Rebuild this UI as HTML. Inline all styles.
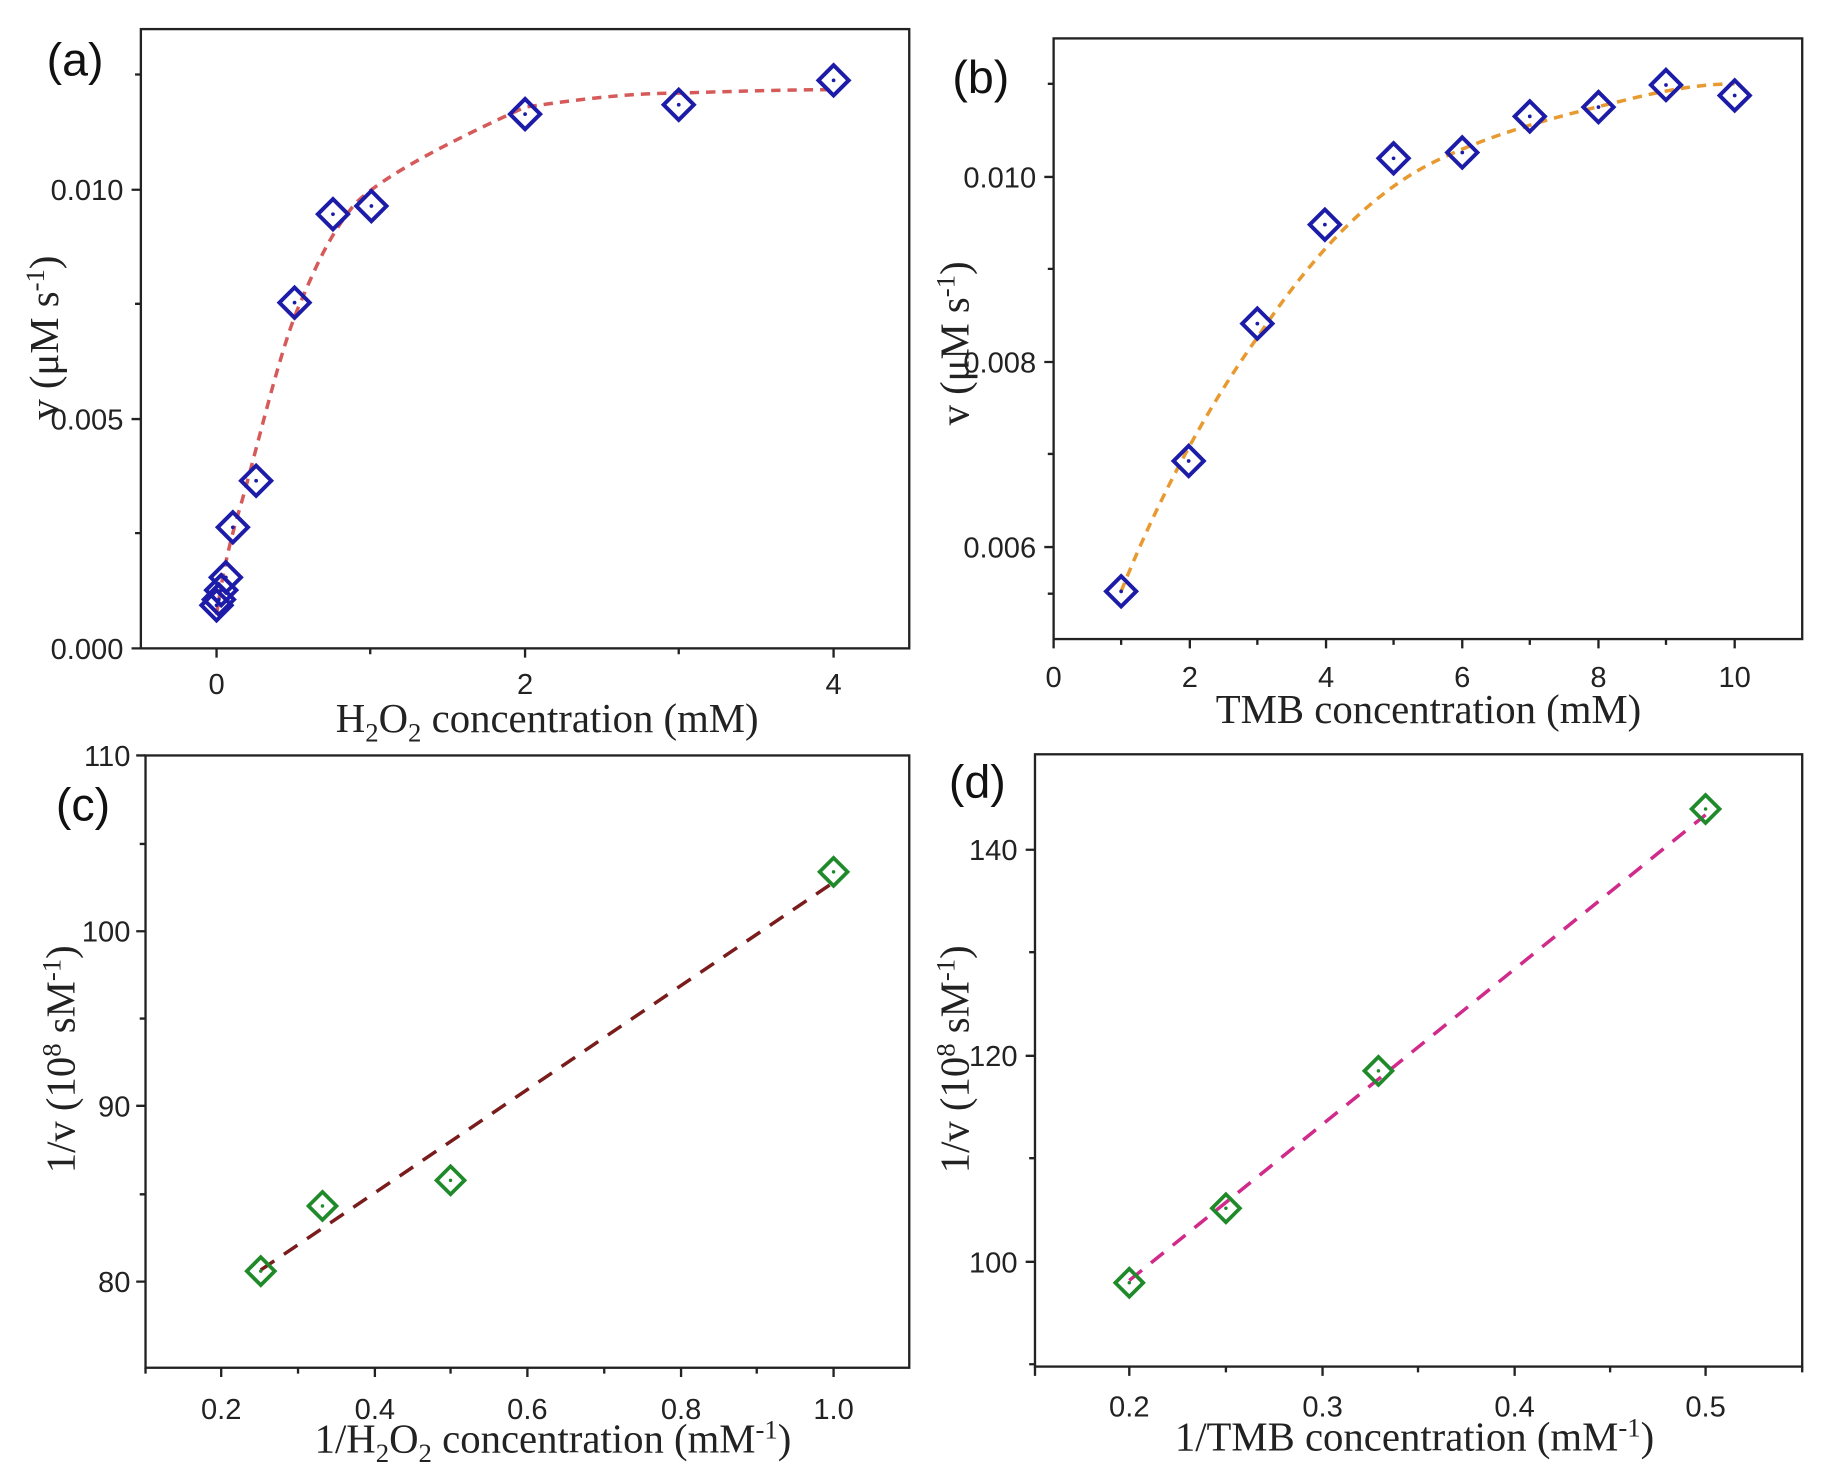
<!DOCTYPE html>
<html><head><meta charset="utf-8"><style>
html,body{margin:0;padding:0;background:#fff;}
svg{display:block;}
.tk{font-family:"Liberation Sans",sans-serif;font-size:25px;fill:#222;}
.tt{font-family:"Liberation Serif",serif;font-size:35px;fill:#222;}
.pl{font-family:"Liberation Sans",sans-serif;font-size:40px;fill:#111;}
.ax{stroke:#222;stroke-width:2;fill:none;}
</style></head><body>
<svg width="1822" height="1476" viewBox="0 0 1565 1268" preserveAspectRatio="none" xmlns="http://www.w3.org/2000/svg">
<defs>
<g id="db"><path d="M0,-13 L13,0 L0,13 L-13,0 Z" fill="none" stroke="#1c1ca8" stroke-width="3.4"/><circle r="1.6" fill="#1c1ca8"/></g>
<g id="dg"><path d="M0,-12 L12,0 L0,12 L-12,0 Z" fill="none" stroke="#1f8a2a" stroke-width="3.2"/><circle r="1.5" fill="#1f8a2a"/></g>
</defs>
<!-- Panel a -->
<rect x="121" y="25" width="660" height="532" class="ax"/>
<g class="ax">
<path d="M121,557 h-8 M121,458 h-5 M121,360 h-8 M121,261 h-5 M121,163 h-8 M121,64 h-5"/>
<path d="M186,557 v8 M318,557 v5 M451,557 v8 M583,557 v5 M716,557 v8"/>
</g>
<g class="tk" text-anchor="end"><text x="106" y="566">0.000</text><text x="106" y="369">0.005</text><text x="106" y="172">0.010</text></g>
<g class="tk" text-anchor="middle"><text x="186" y="596">0</text><text x="451" y="596">2</text><text x="716" y="596">4</text></g>
<text class="tt" x="470" y="629" text-anchor="middle">H<tspan font-size="23" dy="8">2</tspan><tspan dy="-8">O</tspan><tspan font-size="23" dy="8">2</tspan><tspan dy="-8"> concentration (mM)</tspan></text>
<text class="tt" transform="translate(50,290) rotate(-90)" text-anchor="middle">v (μM s<tspan font-size="23" dy="-12">-1</tspan><tspan dy="12">)</tspan></text>
<text class="pl" x="40" y="65">(a)</text>
<path d="M186,528 C190,500 196,470 205,440 C220,390 240,300 258,260 C275,220 285,200 305,175 C330,150 390,120 451,92 C500,85 540,80 583,80 C640,78 690,77 716,77" fill="none" stroke="#d65a5a" stroke-width="3" stroke-dasharray="8,6"/>
<g><use href="#db" x="186" y="520"/><use href="#db" x="188" y="515"/><use href="#db" x="190" y="507"/><use href="#db" x="194" y="496"/><use href="#db" x="200" y="453"/><use href="#db" x="220" y="413"/><use href="#db" x="253" y="260"/><use href="#db" x="286" y="184"/><use href="#db" x="319" y="177"/><use href="#db" x="451" y="98"/><use href="#db" x="583" y="90"/><use href="#db" x="716" y="69"/></g>

<!-- Panel b -->
<rect x="905" y="33" width="643" height="516" class="ax"/>
<g class="ax">
<path d="M905,470 h-8 M905,390 h-5 M905,311 h-8 M905,231 h-5 M905,152 h-8 M905,72 h-5 M905,510 h-5"/>
<path d="M905,549 v8 M963,549 v5 M1022,549 v8 M1080,549 v5 M1139,549 v8 M1197,549 v5 M1256,549 v8 M1314,549 v5 M1373,549 v8 M1431,549 v5 M1490,549 v8"/>
</g>
<g class="tk" text-anchor="end"><text x="890" y="479">0.006</text><text x="890" y="320">0.008</text><text x="890" y="161">0.010</text></g>
<g class="tk" text-anchor="middle"><text x="905" y="590">0</text><text x="1022" y="590">2</text><text x="1139" y="590">4</text><text x="1256" y="590">6</text><text x="1373" y="590">8</text><text x="1490" y="590">10</text></g>
<text class="tt" x="1227" y="621" text-anchor="middle">TMB concentration (mM)</text>
<text class="tt" transform="translate(832,295) rotate(-90)" text-anchor="middle">v (μM s<tspan font-size="23" dy="-12">-1</tspan><tspan dy="12">)</tspan></text>
<text class="pl" x="818" y="80">(b)</text>
<path d="M963,508 C990,440 1030,360 1080,290 C1120,230 1170,170 1230,140 C1290,110 1360,95 1400,85 C1440,75 1470,72 1490,72" fill="none" stroke="#e89a30" stroke-width="3" stroke-dasharray="8,6"/>
<g><use href="#db" x="963" y="508"/><use href="#db" x="1021" y="396"/><use href="#db" x="1080" y="278"/><use href="#db" x="1138" y="193"/><use href="#db" x="1197" y="136"/><use href="#db" x="1256" y="131"/><use href="#db" x="1314" y="100"/><use href="#db" x="1373" y="92"/><use href="#db" x="1431" y="73"/><use href="#db" x="1490" y="82"/></g>

<!-- Panel c -->
<rect x="125" y="649" width="656" height="526" class="ax"/>
<g class="ax">
<path d="M125,649 h-8 M125,725 h-5 M125,800 h-8 M125,875 h-5 M125,950 h-8 M125,1026 h-5 M125,1101 h-8"/>
<path d="M125,1175 v5 M190,1175 v8 M256,1175 v5 M322,1175 v8 M387,1175 v5 M453,1175 v8 M519,1175 v5 M585,1175 v8 M650,1175 v5 M716,1175 v8"/>
</g>
<g class="tk" text-anchor="end"><text x="112" y="658">110</text><text x="112" y="809">100</text><text x="112" y="959">90</text><text x="112" y="1110">80</text></g>
<g class="tk" text-anchor="middle"><text x="190" y="1219">0.2</text><text x="322" y="1219">0.4</text><text x="453" y="1219">0.6</text><text x="585" y="1219">0.8</text><text x="716" y="1219">1.0</text></g>
<text class="tt" x="475" y="1248" text-anchor="middle">1/H<tspan font-size="23" dy="8">2</tspan><tspan dy="-8">O</tspan><tspan font-size="23" dy="8">2</tspan><tspan dy="-8"> concentration (mM</tspan><tspan font-size="23" dy="-12">-1</tspan><tspan dy="12">)</tspan></text>
<text class="tt" transform="translate(64,910) rotate(-90)" text-anchor="middle">1/v (10<tspan font-size="23" dy="-12">8</tspan><tspan dy="12"> sM</tspan><tspan font-size="23" dy="-12">-1</tspan><tspan dy="12">)</tspan></text>
<text class="pl" x="48" y="705">(c)</text>
<path d="M224,1091 L716,758" fill="none" stroke="#7a1c1c" stroke-width="3" stroke-dasharray="14,10"/>
<g><use href="#dg" x="224" y="1092"/><use href="#dg" x="277" y="1036"/><use href="#dg" x="387" y="1014"/><use href="#dg" x="716" y="749"/></g>

<!-- Panel d -->
<rect x="889" y="648" width="659" height="526" class="ax"/>
<g class="ax">
<path d="M889,730 h-8 M889,818 h-5 M889,907 h-8 M889,995 h-5 M889,1084 h-8 M889,1172 h-5"/>
<path d="M889,1174 v8 M970,1174 v8 M1053,1174 v5 M1136,1174 v8 M1218,1174 v5 M1301,1174 v8 M1383,1174 v5 M1465,1174 v8 M1548,1174 v5"/>
</g>
<g class="tk" text-anchor="end"><text x="874" y="739">140</text><text x="874" y="916">120</text><text x="874" y="1093">100</text></g>
<g class="tk" text-anchor="middle"><text x="970" y="1217">0.2</text><text x="1136" y="1217">0.3</text><text x="1301" y="1217">0.4</text><text x="1465" y="1217">0.5</text></g>
<text class="tt" x="1215" y="1246" text-anchor="middle">1/TMB concentration (mM<tspan font-size="23" dy="-12">-1</tspan><tspan dy="12">)</tspan></text>
<text class="tt" transform="translate(832,910) rotate(-90)" text-anchor="middle">1/v (10<tspan font-size="23" dy="-12">8</tspan><tspan dy="12"> sM</tspan><tspan font-size="23" dy="-12">-1</tspan><tspan dy="12">)</tspan></text>
<text class="pl" x="815" y="685">(d)</text>
<path d="M970,1100 L1465,700" fill="none" stroke="#d02a8a" stroke-width="3" stroke-dasharray="14,10"/>
<g><use href="#dg" x="970" y="1102"/><use href="#dg" x="1053" y="1038"/><use href="#dg" x="1184" y="920"/><use href="#dg" x="1465" y="695"/></g>
</svg>
</body></html>
